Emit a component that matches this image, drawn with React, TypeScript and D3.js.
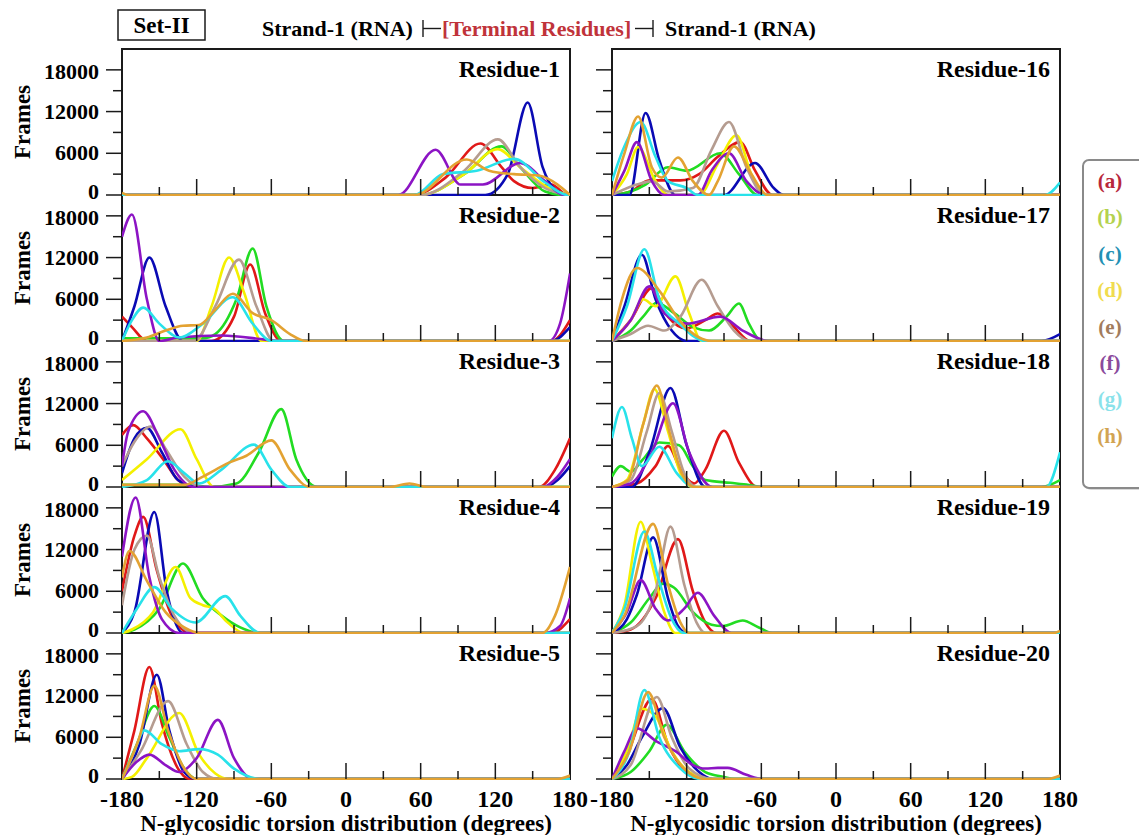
import * as d3 from 'd3';
import React from 'react';

type Pt = [number, number];

// series order: (a) .. (h)
const seriesKeys = ['(a)', '(b)', '(c)', '(d)', '(e)', '(f)', '(g)', '(h)'];
const lineColors = ['#e01818', '#22dc22', '#0a0ab4', '#f4f000', '#b59c90', '#8c14c4', '#28e2ea', '#e3a232'];
const legendColors = ['#b8283c', '#b4d24e', '#2290b4', '#f0dc4e', '#a27c5c', '#8a4a9c', '#8ae2ea', '#d2a452'];

const xTicks = [-180, -120, -60, 0, 60, 120, 180];
const xMinor = [-150, -90, -30, 30, 90, 150];
const yTicks = [0, 6000, 12000, 18000];
const yMinor = [3000, 9000, 15000];

// N-glycosidic torsion (deg) vs frames
const res1: Pt[][] = [
  [[-180, 0], [55, 0], [80, 2500], [108, 7400], [125, 4000], [135, 2000], [150, 1000], [165, 1500], [178, 0], [180, 0]],
  [[-180, 0], [60, 0], [95, 3000], [125, 7000], [140, 4000], [160, 500], [175, 0], [180, 0]],
  [[-180, 0], [112, 0], [130, 3000], [146, 13300], [158, 4000], [168, 800], [180, 0]],
  [[-180, 0], [60, 0], [95, 3000], [122, 6600], [140, 4000], [165, 800], [180, 0]],
  [[-180, 0], [60, 0], [95, 3500], [122, 8000], [140, 4000], [160, 1000], [180, 0]],
  [[-180, 0], [42, 0], [72, 6500], [92, 1500], [110, 1500], [140, 4600], [160, 2000], [175, 0], [180, 0]],
  [[-180, 0], [55, 0], [78, 3000], [105, 3500], [135, 5200], [160, 1800], [178, 0], [180, 0]],
  [[-180, 300], [-175, 0], [55, 0], [97, 5100], [115, 3500], [135, 3000], [155, 2800], [170, 1500], [180, 0]],
];

const res2: Pt[][] = [
  [[-180, 3500], [-172, 2000], [-160, 0], [-108, 0], [-90, 3500], [-77, 11000], [-65, 4000], [-52, 0], [165, 0], [180, 3000]],
  [[-180, 400], [-115, 400], [-105, 1000], [-88, 6000], [-75, 13300], [-64, 5000], [-50, 0], [180, 0]],
  [[-180, 0], [-170, 5000], [-158, 12000], [-145, 5000], [-131, 0], [165, 0], [180, 2000]],
  [[-180, 0], [-120, 0], [-108, 5000], [-94, 12000], [-82, 7000], [-68, 0], [180, 0]],
  [[-180, 0], [-122, 0], [-105, 5000], [-86, 11700], [-72, 5000], [-58, 0], [180, 0]],
  [[-180, 15000], [-172, 18200], [-160, 6000], [-150, 0], [-135, 500], [-100, 800], [-65, 200], [-55, 0], [163, 0], [172, 2500], [180, 9700]],
  [[-180, 0], [-172, 3000], [-163, 4800], [-150, 2500], [-134, 500], [-115, 2500], [-91, 6300], [-75, 2500], [-60, 0], [180, 0]],
  [[-180, 0], [-160, 500], [-145, 1500], [-131, 2200], [-118, 2300], [-105, 4500], [-91, 6800], [-75, 4000], [-60, 3000], [-45, 1000], [-32, 0], [180, 0]],
];

const res3: Pt[][] = [
  [[-180, 7500], [-171, 8900], [-160, 7000], [-145, 3500], [-135, 1000], [-122, 0], [155, 0], [168, 2500], [180, 7000]],
  [[-180, 300], [-125, 300], [-110, 0], [-88, 500], [-70, 5000], [-52, 11200], [-40, 4000], [-23, 0], [180, 0]],
  [[-180, 2000], [-170, 7000], [-160, 8500], [-148, 5000], [-135, 1000], [-120, 0], [160, 0], [170, 1000], [180, 3000]],
  [[-180, 1000], [-160, 4000], [-133, 8300], [-120, 4000], [-106, 0], [180, 0]],
  [[-180, 3000], [-170, 6500], [-157, 8700], [-145, 5500], [-130, 1500], [-115, 0], [180, 0]],
  [[-180, 3000], [-175, 8000], [-163, 10900], [-150, 7000], [-138, 2500], [-122, 0], [158, 0], [170, 1500], [180, 4000]],
  [[-180, 0], [-160, 1000], [-143, 3700], [-130, 2000], [-118, 500], [-100, 2500], [-74, 6100], [-60, 2500], [-45, 0], [180, 0]],
  [[-180, 300], [-130, 300], [-115, 1500], [-94, 3500], [-80, 4500], [-60, 6700], [-45, 2500], [-29, 0], [35, 0], [51, 500], [65, 0], [180, 0]],
];

const res4: Pt[][] = [
  [[-180, 6000], [-170, 14000], [-163, 16700], [-152, 9000], [-140, 2500], [-125, 0], [165, 0], [180, 2000]],
  [[-180, 0], [-170, 500], [-150, 3500], [-131, 10000], [-115, 5000], [-100, 2500], [-85, 800], [-69, 0], [180, 0]],
  [[-180, 0], [-170, 3000], [-154, 17400], [-144, 6000], [-131, 0], [180, 0]],
  [[-180, 0], [-172, 500], [-155, 3000], [-137, 9500], [-125, 5000], [-115, 4000], [-106, 3500], [-95, 1500], [-82, 0], [180, 0]],
  [[-180, 4000], [-170, 12000], [-160, 14000], [-150, 8000], [-138, 2500], [-122, 0], [180, 0]],
  [[-180, 11000], [-169, 19500], [-158, 8000], [-148, 2000], [-134, 0], [160, 0], [172, 1000], [180, 5000]],
  [[-180, 0], [-168, 3500], [-154, 6600], [-140, 3500], [-121, 1500], [-97, 5300], [-85, 2500], [-69, 0], [180, 0]],
  [[-180, 8000], [-174, 11800], [-160, 7500], [-145, 3000], [-130, 800], [-118, 0], [158, 0], [168, 2500], [180, 9500]],
];

const res5: Pt[][] = [
  [[-180, 0], [-170, 7000], [-158, 16100], [-148, 8000], [-135, 1500], [-125, 0], [180, 0]],
  [[-180, 0], [-168, 5000], [-154, 10500], [-142, 6000], [-130, 1500], [-120, 0], [180, 0]],
  [[-180, 0], [-166, 5000], [-152, 15000], [-142, 7000], [-130, 1000], [-120, 0], [180, 0]],
  [[-180, 0], [-172, 300], [-160, 3000], [-134, 9500], [-118, 3500], [-105, 800], [-94, 0], [180, 0]],
  [[-180, 0], [-165, 4000], [-143, 11200], [-128, 5000], [-115, 1000], [-103, 0], [180, 0]],
  [[-180, 0], [-168, 2500], [-158, 3500], [-145, 2000], [-134, 1000], [-120, 3000], [-103, 8500], [-90, 3000], [-75, 0], [180, 0]],
  [[-180, 0], [-170, 4000], [-162, 7000], [-148, 5000], [-134, 4000], [-118, 4300], [-103, 3500], [-90, 1500], [-69, 0], [180, 0]],
  [[-180, 0], [-166, 6000], [-154, 13400], [-143, 7000], [-130, 1500], [-120, 0], [170, 0], [180, 500]],
];

const res16: Pt[][] = [
  [[-180, 0], [-165, 500], [-150, 2100], [-125, 2100], [-110, 3000], [-95, 5500], [-77, 7600], [-65, 3500], [-51, 0], [180, 0]],
  [[-180, 0], [-165, 500], [-153, 1500], [-135, 4000], [-120, 3500], [-93, 6000], [-78, 3000], [-63, 0], [180, 0]],
  [[-180, 0], [-166, 0], [-153, 11800], [-142, 5000], [-129, 0], [-90, 0], [-65, 4600], [-50, 1000], [-42, 0], [180, 0]],
  [[-180, 0], [-168, 3000], [-159, 6900], [-145, 2000], [-135, 0], [-110, 0], [-95, 4500], [-80, 8600], [-68, 3000], [-55, 0], [180, 0]],
  [[-180, 0], [-160, 1500], [-148, 2000], [-135, 500], [-115, 1000], [-100, 6500], [-86, 10500], [-72, 4000], [-57, 0], [180, 0]],
  [[-180, 0], [-170, 3500], [-160, 7600], [-148, 2000], [-138, 0], [-111, 0], [-100, 3500], [-86, 6000], [-72, 2000], [-57, 0], [180, 0]],
  [[-180, 2000], [-170, 7000], [-157, 10500], [-145, 5500], [-135, 2000], [-120, 1000], [-111, 0], [168, 0], [180, 1800]],
  [[-180, 0], [-170, 6000], [-159, 11300], [-148, 4000], [-140, 2500], [-127, 5400], [-115, 2000], [-102, 0], [-95, 2000], [-82, 7000], [-68, 3000], [-55, 0], [180, 0]],
];

const res17: Pt[][] = [
  [[-180, 0], [-165, 3000], [-148, 7600], [-135, 3500], [-120, 1800], [-105, 3000], [-95, 3950], [-82, 2000], [-69, 0], [180, 0]],
  [[-180, 0], [-165, 1500], [-155, 3500], [-144, 5500], [-130, 4000], [-115, 2000], [-102, 1500], [-88, 3500], [-78, 5400], [-70, 2500], [-60, 0], [180, 0]],
  [[-180, 0], [-170, 5000], [-156, 12400], [-145, 6000], [-132, 1500], [-120, 0], [165, 0], [180, 1000]],
  [[-180, 0], [-165, 3000], [-155, 6000], [-145, 5000], [-129, 9300], [-118, 4000], [-108, 0], [180, 0]],
  [[-180, 0], [-165, 1000], [-151, 2200], [-138, 1500], [-125, 3500], [-108, 8800], [-95, 5000], [-82, 1500], [-69, 0], [180, 0]],
  [[-180, 0], [-165, 3000], [-150, 7850], [-138, 4000], [-120, 2500], [-93, 3500], [-75, 1500], [-54, 0], [180, 0]],
  [[-180, 0], [-168, 5000], [-154, 13200], [-142, 6000], [-126, 2500], [-105, 0], [180, 0]],
  [[-180, 0], [-172, 6000], [-160, 10500], [-141, 7000], [-126, 3000], [-110, 500], [-100, 0], [180, 0]],
];

const res18: Pt[][] = [
  [[-180, 0], [-160, 500], [-145, 3000], [-135, 5900], [-125, 2500], [-114, 500], [-105, 2500], [-90, 8100], [-78, 3500], [-63, 0], [180, 0]],
  [[-180, 1500], [-173, 3000], [-165, 2200], [-155, 4000], [-142, 6400], [-126, 6000], [-115, 3000], [-105, 1000], [-85, 600], [-70, 300], [-60, 0], [165, 0], [180, 1000]],
  [[-180, 0], [-164, 0], [-150, 5000], [-133, 14250], [-120, 6000], [-105, 0], [180, 0]],
  [[-180, 0], [-168, 1000], [-155, 9000], [-146, 14100], [-135, 8000], [-125, 2000], [-115, 0], [180, 0]],
  [[-180, 0], [-165, 1000], [-152, 8000], [-142, 13500], [-132, 8000], [-122, 2000], [-112, 0], [180, 0]],
  [[-180, 0], [-165, 500], [-148, 5000], [-131, 12050], [-118, 5000], [-99, 0], [180, 0]],
  [[-180, 7000], [-172, 11500], [-164, 7000], [-156, 3000], [-142, 5800], [-128, 2000], [-114, 0], [169, 0], [180, 5000]],
  [[-180, 0], [-167, 1000], [-155, 9000], [-144, 14600], [-134, 8000], [-124, 2000], [-114, 0], [180, 0]],
];

const res19: Pt[][] = [
  [[-180, 0], [-165, 500], [-145, 5000], [-127, 13500], [-115, 6000], [-105, 1500], [-96, 0], [180, 0]],
  [[-180, 0], [-165, 1500], [-150, 5000], [-139, 7100], [-130, 6500], [-115, 3000], [-100, 1200], [-91, 1000], [-75, 1800], [-62, 800], [-51, 0], [180, 0]],
  [[-180, 0], [-168, 2000], [-160, 5500], [-147, 13750], [-135, 5000], [-127, 1000], [-120, 0], [180, 0]],
  [[-180, 0], [-170, 4000], [-157, 16000], [-148, 10000], [-138, 3000], [-129, 0], [180, 0]],
  [[-180, 0], [-160, 1000], [-145, 6000], [-133, 15300], [-122, 7000], [-112, 1500], [-105, 0], [180, 0]],
  [[-180, 0], [-168, 3000], [-157, 7600], [-145, 3500], [-135, 1800], [-122, 3500], [-111, 5800], [-98, 2500], [-84, 0], [180, 0]],
  [[-180, 0], [-170, 3500], [-154, 14600], [-143, 8000], [-132, 2000], [-122, 0], [180, 0]],
  [[-180, 0], [-170, 2500], [-147, 15700], [-135, 7000], [-125, 1500], [-118, 0], [175, 0], [180, 300]],
];

const res20: Pt[][] = [
  [[-180, 0], [-168, 3500], [-148, 11500], [-135, 5000], [-120, 1000], [-105, 0], [180, 0]],
  [[-180, 0], [-165, 1000], [-150, 4000], [-136, 7800], [-122, 4000], [-105, 1000], [-90, 300], [-81, 0], [180, 0]],
  [[-180, 0], [-168, 2000], [-156, 6000], [-139, 10200], [-125, 4500], [-110, 1000], [-99, 0], [180, 0]],
  [[-180, 0], [-168, 4000], [-156, 10100], [-145, 9000], [-132, 4000], [-118, 1000], [-100, 0], [180, 0]],
  [[-180, 0], [-165, 2000], [-144, 11800], [-132, 6000], [-118, 1500], [-99, 0], [180, 0]],
  [[-180, 0], [-170, 4000], [-160, 7300], [-145, 5500], [-129, 4000], [-115, 2000], [-105, 1500], [-95, 1600], [-87, 1600], [-72, 600], [-59, 0], [180, 0]],
  [[-180, 0], [-166, 4000], [-154, 12800], [-142, 6000], [-125, 1500], [-108, 0], [180, 0]],
  [[-180, 0], [-166, 4000], [-151, 12500], [-138, 6000], [-122, 1500], [-105, 0], [170, 0], [180, 500]],
];

const leftNames = ['Residue-1', 'Residue-2', 'Residue-3', 'Residue-4', 'Residue-5'];
const rightNames = ['Residue-16', 'Residue-17', 'Residue-18', 'Residue-19', 'Residue-20'];
const leftData = [res1, res2, res3, res4, res5];
const rightData = [res16, res17, res18, res19, res20];

const W = 1139;
const H = 835;
const panelW = 448;
const panelH = 146;
const top0 = 49;
const colX = [122, 612];
const font = '"Liberation Serif", "Times New Roman", Times, serif';

const x = d3.scaleLinear().domain([-180, 180]).range([0, panelW]);
const y = d3.scaleLinear().domain([0, 21000]).range([panelH, 0]);
const line = d3.line<Pt>()
  .x(d => x(d[0]))
  .y(d => y(d[1]))
  .curve(d3.curveMonotoneX);

const panels = [0, 1].flatMap(col =>
  d3.range(5).map(row => ({
    col,
    row,
    px: colX[col],
    py: top0 + row * panelH,
    name: col === 0 ? leftNames[row] : rightNames[row],
    data: col === 0 ? leftData[row] : rightData[row],
  }))
);

// nudge the bottom "0" up and the top "18000" down so stacked panels' labels don't collide
const yLabelShift = (t: number) => (t === 0 ? 4 : t === 18000 ? 9 : 7);

export default function App() {
  const ink = '#1a1a1a';
  return (
    <svg width={W} height={H} style={{ position: 'absolute', left: 0, top: 0, background: '#fff', fontFamily: font }}
      fontWeight="bold">
      <rect width={W} height={H} fill="#fff" />

      {/* header */}
      <rect x={118} y={10} width={87} height={30} fill="none" stroke={ink} strokeWidth={1.5} />
      <text x={161.5} y={33} textAnchor="middle" fontSize={23}>Set-II</text>
      <text x={262} y={36} fontSize={22}>Strand-1 (RNA)</text>
      <line x1={423} x2={423} y1={20} y2={37} stroke={ink} strokeWidth={1.4} />
      <line x1={423} x2={441} y1={28.5} y2={28.5} stroke={ink} strokeWidth={1.4} />
      <text x={442} y={36} fontSize={22} fill="#c0333a">[Terminal Residues]</text>
      <line x1={635} x2={653} y1={28.5} y2={28.5} stroke={ink} strokeWidth={1.4} />
      <line x1={653} x2={653} y1={20} y2={37} stroke={ink} strokeWidth={1.4} />
      <text x={665} y={36} fontSize={22}>Strand-1 (RNA)</text>

      {/* frames */}
      {panels.map(p => (
        <rect key={`f${p.col}${p.row}`} x={p.px} y={p.py} width={panelW} height={panelH}
          fill="none" stroke={ink} strokeWidth={2} />
      ))}

      <defs>
        {panels.map(p => (
          <clipPath key={`c${p.col}${p.row}`} id={`clip-${p.col}-${p.row}`}>
            <rect x={0} y={-2} width={panelW} height={panelH + 3} />
          </clipPath>
        ))}
      </defs>

      {/* distributions */}
      {panels.map(p => (
        <g key={`l${p.col}${p.row}`} transform={`translate(${p.px},${p.py})`} clipPath={`url(#clip-${p.col}-${p.row})`}>
          {p.data.map((s, i) => (
            <path key={seriesKeys[i]} d={line(s) || ''} fill="none" stroke={lineColors[i]}
              strokeWidth={2.6} strokeLinejoin="round" />
          ))}
        </g>
      ))}

      {/* ticks and labels */}
      {panels.map(p => (
        <g key={`t${p.col}${p.row}`} transform={`translate(${p.px},${p.py})`}>
          {yTicks.map(t => (
            <line key={`ym${t}`} x1={-16} x2={0} y1={y(t)} y2={y(t)} stroke={ink} strokeWidth={1.5} />
          ))}
          {yMinor.map(t => (
            <line key={`yn${t}`} x1={-9} x2={0} y1={y(t)} y2={y(t)} stroke={ink} strokeWidth={1.5} />
          ))}
          {xTicks.slice(1, -1).map(t => (
            <line key={`xm${t}`} x1={x(t)} x2={x(t)} y1={panelH} y2={panelH - 16} stroke={ink} strokeWidth={1.5} />
          ))}
          {xMinor.map(t => (
            <line key={`xn${t}`} x1={x(t)} x2={x(t)} y1={panelH} y2={panelH - 8} stroke={ink} strokeWidth={1.5} />
          ))}
          <text x={panelW - 10} y={28} textAnchor="end" fontSize={24}>{p.name}</text>
          {p.col === 0 && yTicks.map(t => (
            <text key={`yl${t}`} x={-23} y={y(t) + yLabelShift(t)} textAnchor="end" fontSize={22}>{t}</text>
          ))}
          {p.col === 0 && (
            <text transform={`translate(-92,${panelH / 2}) rotate(-90)`} textAnchor="middle" fontSize={23}>Frames</text>
          )}
          {p.row === 4 && xTicks.map(t => (
            <text key={`xl${t}`} x={x(t)} y={panelH + 28} textAnchor="middle" fontSize={24}>{t}</text>
          ))}
          {p.row === 4 && (
            <text x={panelW / 2} y={panelH + 52} textAnchor="middle" fontSize={23}>
              N-glycosidic torsion distribution (degrees)
            </text>
          )}
        </g>
      ))}

      {/* legend */}
      <rect x={1085} y={162} width={80} height={328} rx={6} fill="#d8d8d8" />
      <rect x={1083} y={160} width={80} height={328} rx={6} fill="#fff" stroke="#8a8a8a" strokeWidth={2} />
      {seriesKeys.map((k, i) => (
        <text key={k} x={1110} y={181 + i * 36.4 + 7} textAnchor="middle" fontSize={21}
          fill={legendColors[i]}>{k}</text>
      ))}
    </svg>
  );
}
